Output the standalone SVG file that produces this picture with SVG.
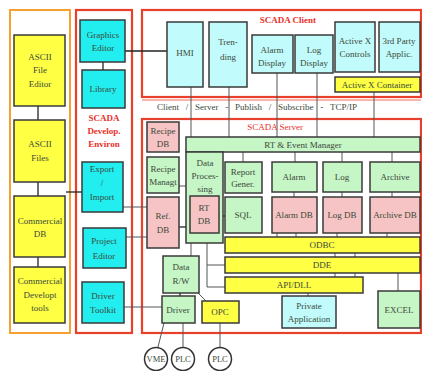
<svg xmlns="http://www.w3.org/2000/svg" width="422" height="371" viewBox="0 0 422 371">
<style>
text{font-family:"Liberation Serif","Times New Roman",serif;font-size:9px;fill:#3a4a3a;text-anchor:middle}
.red{fill:#e8302a;font-weight:bold}
.frame{fill:none;stroke:#e8402a;stroke-width:2.2}
.org{fill:none;stroke:#f5a030;stroke-width:2}
.b{stroke:#3a3a3a;stroke-width:1.5}
.y{fill:#ffff44}
.c{fill:#22eef0}
.lc{fill:#c2fbfb}
.g{fill:#c6f5c6}
.p{fill:#f6c4c4}
.ln{stroke:#555;stroke-width:1;fill:none}
.dk{stroke:#222;stroke-width:1.3;fill:none}
.circ{fill:#fff;stroke:#333;stroke-width:1.5}
.pre{white-space:pre}
</style>
<rect width="422" height="371" fill="#ffffff"/>
<g id="frames">
<rect class="org" x="10" y="10" width="60" height="323"/>
<rect class="frame" x="76" y="10" width="56" height="323"/>
<rect class="frame" x="142" y="10" width="279" height="87"/>
<line x1="142" y1="100" x2="421" y2="100" stroke="#f07060" stroke-width="1"/>
<rect class="frame" x="142" y="119" width="279" height="214"/>
</g>
<g id="connectors">
<line class="dk" x1="38" y1="106" x2="38" y2="120"/>
<line class="dk" x1="38" y1="182" x2="38" y2="196"/>
<line class="dk" x1="38" y1="257" x2="38" y2="267"/>
<line class="dk" x1="66" y1="192" x2="82" y2="192"/>
<line class="dk" x1="103" y1="62" x2="103" y2="70"/>
<line class="dk" x1="125" y1="51" x2="167" y2="51"/>
<line class="ln" x1="122" y1="207" x2="147" y2="207"/>
<line class="ln" x1="126" y1="237" x2="147" y2="237"/>
<line class="ln" x1="124" y1="307" x2="162" y2="307"/>
<line class="ln" x1="191" y1="87" x2="191" y2="137"/>
<line class="ln" x1="229" y1="87" x2="229" y2="137"/>
<line class="ln" x1="277" y1="73" x2="277" y2="137"/>
<line class="ln" x1="317" y1="73" x2="317" y2="137"/>
<line class="ln" x1="374" y1="92" x2="374" y2="137"/>
<line class="ln" x1="179" y1="186" x2="186" y2="186"/>
<line class="dk" x1="179" y1="227" x2="190" y2="227"/>
<line class="dk" x1="219" y1="216" x2="225" y2="216"/>
<line class="ln" x1="243" y1="152" x2="243" y2="162"/>
<line class="ln" x1="295" y1="152" x2="295" y2="162"/>
<line class="ln" x1="342" y1="152" x2="342" y2="162"/>
<line class="ln" x1="392" y1="152" x2="392" y2="162"/>
<line class="ln" x1="294" y1="192" x2="294" y2="197"/>
<line class="ln" x1="342" y1="192" x2="342" y2="197"/>
<line class="ln" x1="392" y1="192" x2="392" y2="197"/>
<line class="ln" x1="277" y1="233" x2="277" y2="237"/>
<line class="ln" x1="296" y1="233" x2="296" y2="237"/>
<line class="ln" x1="337" y1="233" x2="337" y2="237"/>
<line class="ln" x1="387" y1="233" x2="387" y2="237"/>
<line class="ln" x1="335" y1="253" x2="335" y2="257"/>
<line class="ln" x1="355" y1="253" x2="355" y2="257"/>
<line class="ln" x1="335" y1="273" x2="335" y2="277"/>
<line class="ln" x1="355" y1="273" x2="355" y2="277"/>
<line class="ln" x1="398" y1="273" x2="398" y2="291"/>
<line class="ln" x1="308" y1="293" x2="308" y2="296"/>
<line class="ln" x1="191" y1="243" x2="191" y2="256"/>
<polyline class="ln" points="207,243 207,265 225,265"/>
<polyline class="ln" points="207,265 207,287 225,287"/>
<line class="dk" x1="180" y1="293" x2="180" y2="296"/>
<line class="ln" x1="198" y1="293" x2="206" y2="301"/>
<line class="ln" x1="164" y1="323" x2="158" y2="347"/>
<line class="ln" x1="183" y1="323" x2="183" y2="347"/>
<line class="ln" x1="220" y1="323" x2="220" y2="347"/>
</g>
<g id="ascii-file-editor"><rect class="y b" x="14" y="35" width="51" height="71"/><text x="40" y="60">ASCII</text><text x="40" y="73">File</text><text x="40" y="87">Editor</text></g>
<g id="ascii-files"><rect class="y b" x="14" y="120" width="51" height="62"/><text x="40" y="147">ASCII</text><text x="40" y="161">Files</text></g>
<g id="commercial-db"><rect class="y b" x="14" y="196" width="51" height="61"/><text x="40" y="224">Commercial</text><text x="40" y="237">DB</text></g>
<g id="commercial-tools"><rect class="y b" x="14" y="267" width="51" height="56"/><text x="40" y="284">Commercial</text><text x="40" y="298">Developt</text><text x="40" y="311">tools</text></g>
<g id="graphics-editor"><rect class="c b" x="80" y="20" width="45" height="42"/><text x="103" y="38">Graphics</text><text x="103" y="51">Editor</text></g>
<g id="library"><rect class="c b" x="82" y="70" width="43" height="38"/><text x="103" y="92">Library</text></g>
<g id="develop-label"><text class="red" x="104" y="121">SCADA</text><text class="red" x="104" y="134">Develop.</text><text class="red" x="104" y="147">Environ</text></g>
<g id="export-import"><rect class="c b" x="82" y="162" width="41" height="50"/><text x="102" y="172">Export</text><text x="102" y="186">/</text><text x="102" y="200">Import</text></g>
<g id="project-editor"><rect class="c b" x="83" y="228" width="43" height="40"/><text x="104" y="244">Project</text><text x="104" y="259">Editor</text></g>
<g id="driver-toolkit"><rect class="c b" x="82" y="282" width="42" height="41"/><text x="103" y="299">Driver</text><text x="103" y="313">Toolkit</text></g>
<g id="client-label"><text class="red" x="288" y="23">SCADA Client</text></g>
<g id="hmi"><rect class="lc b" x="167" y="22" width="36" height="65"/><text x="185" y="56">HMI</text></g>
<g id="trending"><rect class="lc b" x="209" y="22" width="38" height="65"/><text x="228" y="45">Tren-</text><text x="228" y="60">ding</text></g>
<g id="alarm-display"><rect class="lc b" x="252" y="35" width="41" height="38"/><text x="272" y="53">Alarm</text><text x="272" y="66">Display</text></g>
<g id="log-display"><rect class="lc b" x="295" y="35" width="38" height="38"/><text x="314" y="53">Log</text><text x="314" y="66">Display</text></g>
<g id="activex-controls"><rect class="lc b" x="335" y="22" width="40" height="50"/><text x="355" y="44">Active X</text><text x="355" y="57">Controls</text></g>
<g id="third-party"><rect class="lc b" x="379" y="22" width="41" height="50"/><text x="399" y="44">3rd Party</text><text x="399" y="57">Applic.</text></g>
<g id="activex-container"><rect class="y b" x="335" y="77" width="85" height="15"/><text x="377" y="88">Active X Container</text></g>
<g id="band"><text class="pre" x="257" y="110">Client   /   Server   -   Publish   /   Subscribe   -   TCP/IP</text></g>
<g id="server-label"><text class="red" x="275" y="130" style="font-weight:normal">SCADA Server</text></g>
<g id="rt-event"><rect class="g b" x="186" y="137" width="234" height="15"/><text x="303" y="148">RT &amp; Event Manager</text></g>
<g id="recipe-db"><rect class="p b" x="147" y="122" width="32" height="30"/><text x="163" y="134">Recipe</text><text x="163" y="147">DB</text></g>
<g id="recipe-managt"><rect class="g b" x="147" y="157" width="32" height="36"/><text x="163" y="172">Recipe</text><text x="163" y="185">Managt</text></g>
<g id="ref-db"><rect class="p b" x="147" y="197" width="32" height="51"/><text x="163" y="219">Ref.</text><text x="163" y="233">DB</text></g>
<g id="data-processing"><rect class="g b" x="186" y="152" width="37" height="91"/><text x="205" y="166">Data</text><text x="205" y="179">Proces-</text><text x="205" y="192">sing</text></g>
<g id="rt-db"><rect class="p b" x="190" y="196" width="29" height="37"/><text x="204" y="211">RT</text><text x="204" y="224">DB</text></g>
<g id="report-gener"><rect class="g b" x="225" y="162" width="37" height="31"/><text x="243" y="175">Report</text><text x="243" y="187">Gener.</text></g>
<g id="sql"><rect class="g b" x="225" y="197" width="37" height="36"/><text x="243" y="218">SQL</text></g>
<g id="alarm"><rect class="g b" x="272" y="162" width="45" height="30"/><text x="294" y="180">Alarm</text></g>
<g id="log"><rect class="g b" x="323" y="162" width="39" height="30"/><text x="342" y="180">Log</text></g>
<g id="archive"><rect class="g b" x="370" y="162" width="50" height="30"/><text x="395" y="180">Archive</text></g>
<g id="alarm-db"><rect class="p b" x="272" y="197" width="45" height="36"/><text x="294" y="218">Alarm DB</text></g>
<g id="log-db"><rect class="p b" x="323" y="197" width="39" height="36"/><text x="342" y="218">Log DB</text></g>
<g id="archive-db"><rect class="p b" x="370" y="197" width="50" height="36"/><text x="395" y="218">Archive DB</text></g>
<g id="odbc"><rect class="y b" x="225" y="237" width="195" height="16"/><text x="322" y="248">ODBC</text></g>
<g id="dde"><rect class="y b" x="225" y="257" width="195" height="16"/><text x="322" y="268">DDE</text></g>
<g id="api-dll"><rect class="y b" x="225" y="277" width="138" height="16"/><text x="294" y="288">API/DLL</text></g>
<g id="private-app"><rect class="lc b" x="282" y="296" width="54" height="32"/><text x="309" y="309">Private</text><text x="309" y="322">Application</text></g>
<g id="excel"><rect class="g b" x="378" y="291" width="42" height="37"/><text x="399" y="313">EXCEL</text></g>
<g id="data-rw"><rect class="g b" x="163" y="256" width="36" height="37"/><text x="181" y="270">Data</text><text x="181" y="284">R/W</text></g>
<g id="driver"><rect class="g b" x="162" y="296" width="33" height="27"/><text x="178" y="313">Driver</text></g>
<g id="opc"><rect class="y b" x="202" y="301" width="37" height="22"/><text x="220" y="315">OPC</text></g>
<g id="vme"><circle class="circ" cx="156" cy="359" r="11.5"/><text x="156" y="362" style="font-size:8.5px">VME</text></g>
<g id="plc1"><circle class="circ" cx="183" cy="359" r="11.5"/><text x="183" y="362" style="font-size:8.5px">PLC</text></g>
<g id="plc2"><circle class="circ" cx="220" cy="359" r="11.5"/><text x="220" y="362" style="font-size:8.5px">PLC</text></g>
</svg>
